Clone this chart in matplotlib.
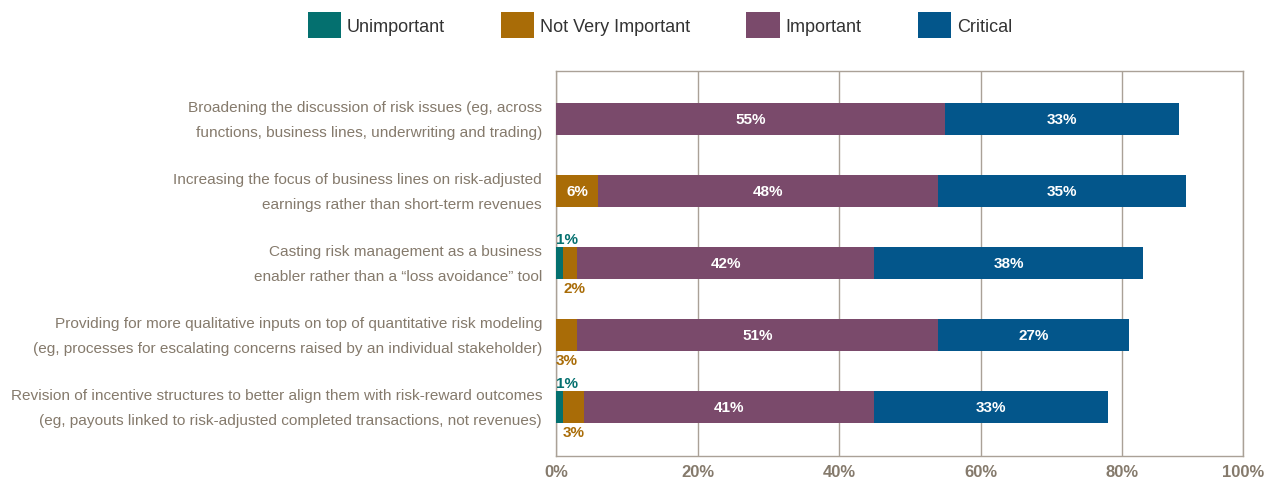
import matplotlib
matplotlib.use("Agg")
import matplotlib.pyplot as plt
import matplotlib.transforms as mtransforms
import numpy as np
from matplotlib.patches import Patch

plt.rcParams["font.family"] = ["Liberation Sans", "DejaVu Sans"]

categories = [
    "Broadening the discussion of risk issues (eg, across\nfunctions, business lines, underwriting and trading)",
    "Increasing the focus of business lines on risk-adjusted\nearnings rather than short-term revenues",
    "Casting risk management as a business\nenabler rather than a \u201closs avoidance\u201d tool",
    "Providing for more qualitative inputs on top of quantitative risk modeling\n(eg, processes for escalating concerns raised by an individual stakeholder)",
    "Revision of incentive structures to better align them with risk-reward outcomes\n(eg, payouts linked to risk-adjusted completed transactions, not revenues)",
]
series_names = ["Unimportant", "Not Very Important", "Important", "Critical"]
unimportant = [0, 0, 1, 0, 1]
not_very = [0, 6, 2, 3, 3]
important = [55, 48, 42, 51, 41]
critical = [33, 35, 38, 27, 33]
tick_vals = [0, 20, 40, 60, 80, 100]

COLORS = ["#04706f", "#a96c07", "#7a4a6b", "#03568b"]
TEXT_GREY = "#857a6c"
FRAME = "#aaa197"

series = [unimportant, not_very, important, critical]

fig = plt.figure(figsize=(12.71, 4.81), dpi=100)
ax = fig.add_axes([556 / 1271, 1 - 457 / 481, (1243 - 556) / 1271, (457 - 72) / 481])

y = np.arange(len(categories))
bh = 0.444
left = np.zeros(len(categories))
for name, vals, col in zip(series_names, series, COLORS):
    vals = np.array(vals, dtype=float)
    ax.barh(y, vals, left=left, height=bh, color=col, label=name, zorder=3)
    for i, v in enumerate(vals):
        if v <= 0:
            continue
        if v >= 5:
            ax.text(left[i] + v / 2, y[i], f"{v:.0f}%", ha="center", va="center",
                    color="white", fontsize=11, fontweight="bold", zorder=4)
        elif name == "Unimportant":
            ax.text(left[i], y[i] - bh / 2 - 0.02, f"{v:.0f}%", ha="left", va="bottom",
                    color=col, fontsize=11, fontweight="bold")
        else:
            ax.text(left[i], y[i] + bh / 2 + 0.03, f"{v:.0f}%", ha="left", va="top",
                    color=col, fontsize=11, fontweight="bold")
    left += vals

# the frame stops a little short of 100%, where the last tick label sits
xmax = 97.1
ax.set_xlim(0, xmax)
ax.set_ylim(4.68, -0.67)
ax.set_yticks(y)
ax.set_yticklabels(categories, fontsize=11.05, color=TEXT_GREY, linespacing=2.0, va="center")
ax.set_xticks([0, 20, 40, 60, 80, xmax])
ax.set_xticklabels([f"{t}%" for t in tick_vals], fontsize=12, fontweight="bold", color=TEXT_GREY)
shift = mtransforms.ScaledTranslation(6 / 100, 0, fig.dpi_scale_trans)
for lbl in ax.get_xticklabels():
    lbl.set_transform(lbl.get_transform() + shift)
ytshift = mtransforms.ScaledTranslation(0, -2 / 100, fig.dpi_scale_trans)
for lbl in ax.get_yticklabels():
    lbl.set_transform(lbl.get_transform() + ytshift)
ax.tick_params(length=0)
ax.tick_params(axis="y", pad=10)
ax.tick_params(axis="x", pad=5.5)
ax.grid(axis="x", color=FRAME, lw=1.0, zorder=0)
for s in ax.spines.values():
    s.set_color(FRAME)
    s.set_linewidth(1.0)

handles = [Patch(facecolor=c, edgecolor="none") for c in COLORS]
fig.legend(handles, series_names, loc="center", bbox_to_anchor=(660 / 1271, 1 - 26 / 481),
           ncol=4, frameon=False, fontsize=13, handlelength=1.83, handleheight=1.77,
           handletextpad=0.35, columnspacing=3.1, labelcolor="#333333",
           borderpad=0, borderaxespad=0)

fig.savefig("out.png", dpi=100)
